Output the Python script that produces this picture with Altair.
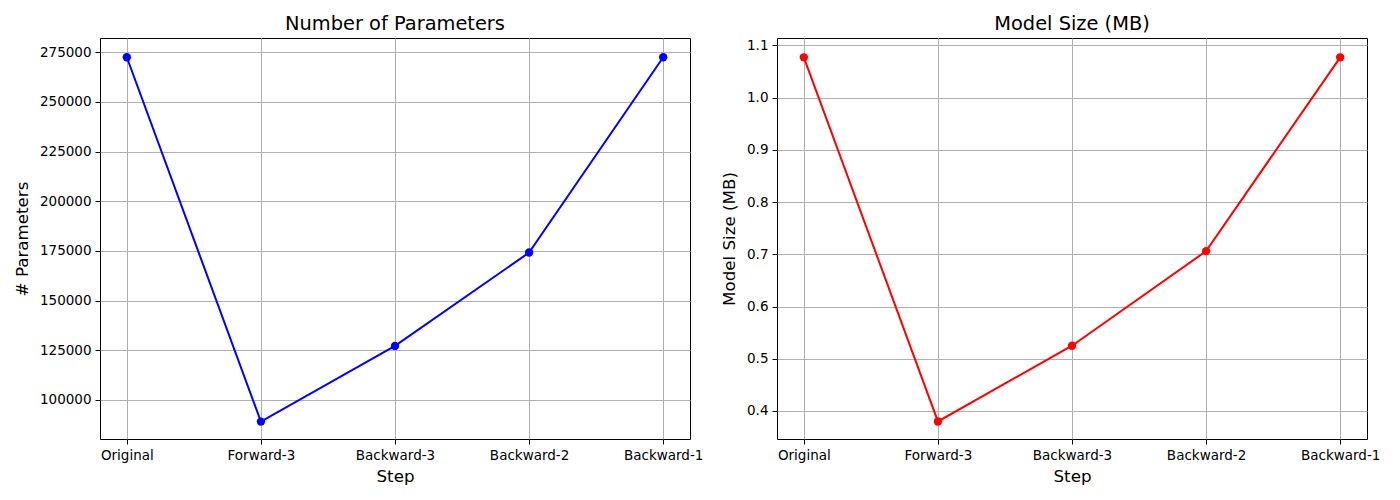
import altair as alt
import pandas as pd

steps = ["Original", "Forward-3", "Backward-3", "Backward-2", "Backward-1"]
num_params = [272500, 89100, 127200, 174200, 272500]
model_size_mb = [1.077, 0.380, 0.525, 0.706, 1.077]

df = pd.DataFrame({"Step": steps, "params": num_params, "size": model_size_mb})

FONT = "DejaVu Sans"
W, H = 590, 401

xenc = alt.X(
    "Step:N",
    sort=steps,
    scale=alt.Scale(type="point", padding=0.2),
    axis=alt.Axis(title="Step", labelAngle=0, grid=True, titleFontSize=16.7, titlePadding=7),
)


def panel(field, color, title, ytitle, domain, ticks, fmt):
    return (
        alt.Chart(df)
        .mark_line(
            color=color,
            strokeWidth=2,
            point=alt.OverlayMarkDef(filled=True, size=70, color=color, opacity=1),
        )
        .encode(
            x=xenc,
            y=alt.Y(
                f"{field}:Q",
                scale=alt.Scale(domain=domain, nice=False, zero=False),
                axis=alt.Axis(
                    title=ytitle,
                    values=ticks,
                    format=fmt,
                    grid=True,
                    titleFontSize=16.7,
                    titlePadding=8,
                ),
            ),
        )
        .properties(
            width=W,
            height=H,
            title=alt.TitleParams(title, fontSize=19.4, fontWeight="normal", font=FONT, offset=4),
        )
    )


left = panel(
    "params", "#0000ff", "Number of Parameters", "# Parameters",
    [80350, 282200], [100000, 125000, 150000, 175000, 200000, 225000, 250000, 275000], "d",
)
right = panel(
    "size", "#ff0000", "Model Size (MB)", "Model Size (MB)",
    [0.3464, 1.114], [0.4, 0.5, 0.6, 0.7, 0.8, 0.9, 1.0, 1.1], ".1f",
)

chart = (
    alt.hconcat(left, right, spacing=87, bounds="flush")
    .configure(background="white", padding=5)
    .configure_view(stroke="black", strokeWidth=1)
    .configure_axis(
        labelFont=FONT,
        titleFont=FONT,
        labelFontSize=13.5,
        labelColor="black",
        titleColor="black",
        titleFontWeight="normal",
        gridColor="#b0b0b0",
        gridWidth=1,
        gridOpacity=1,
        tickColor="black",
        tickSize=5,
        tickWidth=1,
        labelPadding=4,
        domain=False,
    )
    .configure_title(color="black", anchor="middle")
)

chart.save("out.html", embed_options={"renderer": "svg", "actions": False})
